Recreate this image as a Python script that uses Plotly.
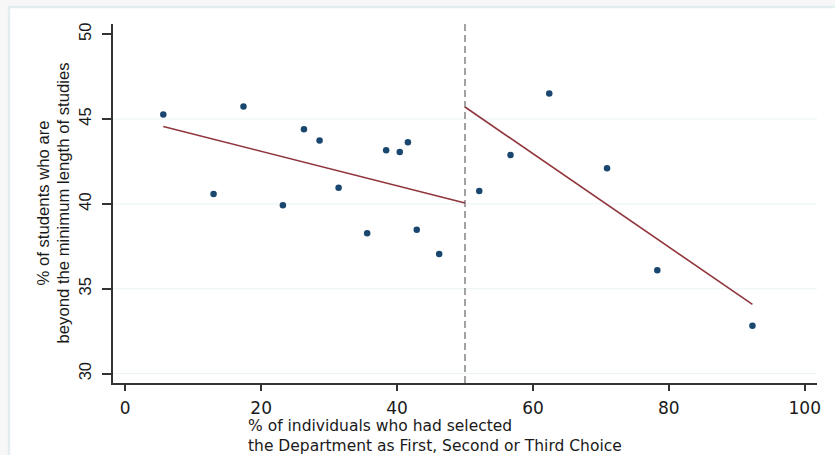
import plotly.graph_objects as go

# ---- data ----
X_LEFT = [5.6, 13.0, 17.4, 23.2, 26.3, 28.6, 31.4, 35.6, 38.4, 40.4, 41.6, 42.9, 46.2]
Y_LEFT = [45.27, 40.59, 45.74, 39.92, 44.40, 43.73, 40.96, 38.27, 43.16, 43.06, 43.63, 38.48, 37.05]
X_RIGHT = [52.1, 56.7, 62.4, 70.9, 78.3, 92.3]
Y_RIGHT = [40.76, 42.88, 46.50, 42.10, 36.09, 32.82]

LEFT_FIT_X = [5.6, 50.0]
LEFT_FIT_Y = [44.56, 40.05]
RIGHT_FIT_X = [50.0, 92.3]
RIGHT_FIT_Y = [45.71, 34.08]

CUTOFF = 50

X_TICKS = [0, 20, 40, 60, 80, 100]
Y_TICKS = [30, 35, 40, 45, 50]

Y_TITLE = ["% of students who are", "beyond the minimum length of studies"]
X_TITLE = ["% of individuals who had selected",
           "the Department as First, Second or Third Choice"]

# ---- layout geometry ----
W, H = 835, 455
ML, MR, MT, MB = 113, 18, 24, 72
PW, PH = W - ML - MR, H - MT - MB


def px_x(p):
    return (p - ML) / PW


def px_y(p):
    return (H - MB - p) / PH


MARKER = "#1A476F"
FIT = "#90353B"
TXT = "#1a1a1a"
AX = "#333333"

fig = go.Figure()

# background frame (light grey band top/left, white chart region)
fig.add_shape(type="rect", xref="paper", yref="paper",
              x0=px_x(9), x1=px_x(W + 10), y0=px_y(7), y1=px_y(H + 10),
              fillcolor="white", line=dict(color="#E3EDEF", width=2.5), layer="below")

# horizontal gridlines
for v in Y_TICKS[:-1]:
    fig.add_shape(type="line", xref="paper", yref="y", x0=0, x1=1, y0=v, y1=v,
                  line=dict(color="#EAF2F3", width=1), layer="below")

# cutoff dashed line
fig.add_shape(type="line", xref="x", yref="paper", x0=CUTOFF, x1=CUTOFF, y0=0, y1=1,
              line=dict(color="#8C8C8C", width=1.6, dash="7px,4px"), layer="below")

fig.add_trace(go.Scatter(x=LEFT_FIT_X, y=LEFT_FIT_Y, mode="lines",
                         line=dict(color=FIT, width=1.6), showlegend=False, hoverinfo="skip"))
fig.add_trace(go.Scatter(x=RIGHT_FIT_X, y=RIGHT_FIT_Y, mode="lines",
                         line=dict(color=FIT, width=1.6), showlegend=False, hoverinfo="skip"))
fig.add_trace(go.Scatter(x=X_LEFT + X_RIGHT, y=Y_LEFT + Y_RIGHT, mode="markers",
                         marker=dict(color=MARKER, size=6.5, symbol="circle"),
                         showlegend=False))

fig.update_layout(
    template="none",
    width=W, height=H,
    margin=dict(l=ML, r=MR, t=MT, b=MB, pad=0, autoexpand=False),
    paper_bgcolor="#F7F7F7",
    plot_bgcolor="rgba(0,0,0,0)",
    showlegend=False,
)

fig.update_xaxes(
    automargin=False,
    range=[-1.8, 101.8], tickvals=X_TICKS, ticktext=[str(v) for v in X_TICKS],
    showgrid=False, zeroline=False,
    showline=True, linecolor=AX, linewidth=2,
    ticks="outside", ticklen=6, tickwidth=1.6, tickcolor=AX,
    tickfont=dict(family="DejaVu Sans", size=17, color=TXT),
    ticklabelstandoff=3,
)
fig.update_yaxes(
    automargin=False,
    range=[29.45, 50.6], tickvals=Y_TICKS, ticktext=[str(v) for v in Y_TICKS],
    showgrid=False, zeroline=False,
    showline=True, linecolor=AX, linewidth=2,
    ticks="outside", ticklen=9, tickwidth=1.6, tickcolor=AX,
    tickangle=-90,
    tickfont=dict(family="Liberation Sans", size=16.5, color=TXT),
    ticklabelstandoff=4,
)

# y-axis title (two rotated lines)
for txt, cx in zip(Y_TITLE, [43, 63]):
    fig.add_annotation(text=txt, xref="paper", yref="paper", x=0, y=0.5,
                       xshift=cx - ML, xanchor="center", yanchor="middle",
                       textangle=-90, showarrow=False,
                       font=dict(family="Liberation Sans", size=16.7, color=TXT))

# x-axis title (two left-aligned lines in one text block)
fig.add_annotation(text="<br>".join(X_TITLE), xref="paper", yref="paper", x=0, y=0,
                   xshift=247 - ML, yshift=-(436 - (H - MB)),
                   xanchor="left", yanchor="middle", align="left", showarrow=False,
                   borderpad=0,
                   font=dict(family="DejaVu Sans", size=15.5, color=TXT))

fig.write_html("out.html",
               config={"displayModeBar": False},
               post_script="document.body.style.margin='0';document.body.style.overflow='hidden';")
